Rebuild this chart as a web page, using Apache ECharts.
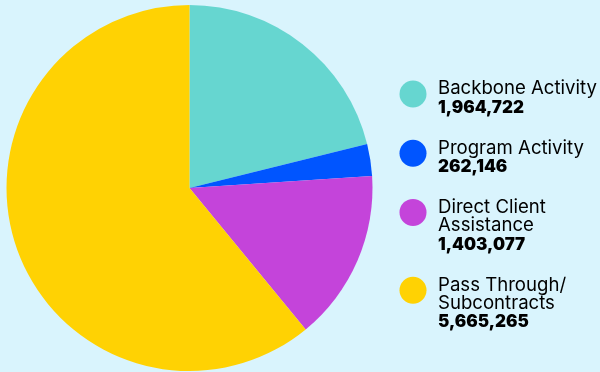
<!DOCTYPE html>
<html>
<head>
<meta charset="utf-8">
<script src="https://cdn.jsdelivr.net/npm/echarts@6/dist/echarts.min.js"></script>
<style>
  html, body { margin: 0; padding: 0; background: #d9f4fd; }
  #chart { width: 600px; height: 372px; }
</style>
</head>
<body>
<div id="chart"></div>
<script>
// Funding categories and their dollar amounts
const categories = ['Backbone Activity', 'Program Activity', 'Direct Client\nAssistance', 'Pass Through/\nSubcontracts'];
const amounts = [1964722, 262146, 1403077, 5665265];
const sliceColors = ['#66d6d0', '#0055ff', '#c444da', '#ffd203'];

const textColor = '#1c1b4f';
const fontFamily = 'Inter, "Noto Sans", sans-serif';

// Legend block on the right: dot + name lines + bold amount
const legendX = 413;
const lineH = 18.6;
let cy = 94;
const legendGraphics = [];
categories.forEach((name, i) => {
  const nameLines = name.split('\n');
  const rich = nameLines.map(l => '{n|' + l + '}').join('\n') + '\n{v|' + amounts[i].toLocaleString('en-US') + '}';
  legendGraphics.push({
    type: 'circle',
    shape: { cx: legendX, cy: cy, r: 13.5 },
    style: { fill: sliceColors[i] },
    silent: true
  });
  legendGraphics.push({
    type: 'text',
    x: 438,
    y: cy - 14.5,
    silent: true,
    style: {
      text: rich,
      verticalAlign: 'top',
      align: 'left',
      rich: {
        n: { fontFamily: fontFamily, fontSize: 18.6, fontWeight: 400, color: textColor, lineHeight: lineH },
        v: { fontFamily: fontFamily, fontSize: 17, fontWeight: 900, color: textColor, lineHeight: lineH }
      }
    }
  });
  cy += (nameLines.length + 1) * lineH + 22;
});

const chart = echarts.init(document.getElementById('chart'), null, { renderer: 'canvas' });
chart.setOption({
  backgroundColor: '#d9f4fd',
  animation: false,
  series: [{
    type: 'pie',
    center: [189.5, 188],
    radius: 183,
    startAngle: 90,
    clockwise: true,
    label: { show: false },
    labelLine: { show: false },
    emphasis: { scale: false },
    itemStyle: { borderWidth: 0 },
    data: categories.map((name, i) => ({
      name: name.replace('\n', ' '),
      value: amounts[i],
      itemStyle: { color: sliceColors[i] }
    }))
  }],
  graphic: legendGraphics
});
</script>
</body>
</html>
